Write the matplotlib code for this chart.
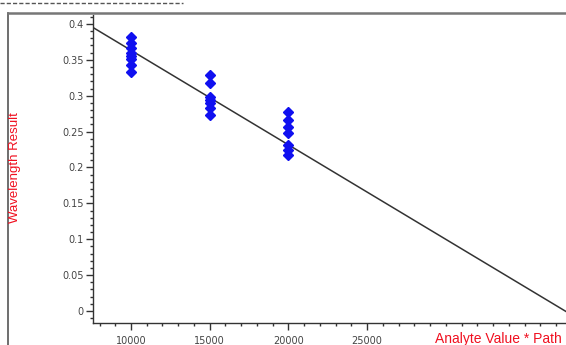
import matplotlib.pyplot as plt
from matplotlib.lines import Line2D
from matplotlib.ticker import MultipleLocator

plt.rcParams['font.family'] = ['DejaVu Sans']

# measured points (analyte value * path length, wavelength result)
x_10k = [10000] * 8
y_10k = [0.382, 0.374, 0.367, 0.360, 0.355, 0.351, 0.343, 0.333]
x_15k = [15000] * 7
y_15k = [0.329, 0.318, 0.298, 0.294, 0.290, 0.283, 0.273]
x_20k = [20000] * 7
y_20k = [0.277, 0.266, 0.256, 0.248, 0.231, 0.224, 0.217]

# fitted calibration line
intercept = 0.495
slope = -1.317e-5
x_min, x_max = 7586, 37636
y_min, y_max = -0.0167, 0.4125

W, H = 566, 345
fig = plt.figure(figsize=(W / 100, H / 100), dpi=100)
ax = fig.add_axes([93 / W, 22 / H, (566 - 93) / W, (323 - 15) / H])

xs = x_10k + x_15k + x_20k
ys = y_10k + y_15k + y_20k
ax.plot(xs, ys, 'D', color='#1010f0', ms=5, mec='#1010f0', zorder=3)

line_x = [x_min, x_max]
line_y = [intercept + slope * v for v in line_x]
ax.plot(line_x, line_y, color='#333333', lw=1.1, zorder=2)

ax.set_xlim(x_min, x_max)
ax.set_ylim(y_min, y_max)
ax.spines['top'].set_visible(False)
ax.spines['right'].set_visible(False)
for s in ('left', 'bottom'):
    ax.spines[s].set_color('#333333')
    ax.spines[s].set_linewidth(1.0)

ax.xaxis.set_minor_locator(MultipleLocator(1000))
ax.yaxis.set_minor_locator(MultipleLocator(0.01))
ax.set_xticks([10000, 15000, 20000, 25000])
ax.set_yticks([0, 0.05, 0.1, 0.15, 0.2, 0.25, 0.3, 0.35, 0.4])
ax.set_yticklabels(['0', '0.05', '0.1', '0.15', '0.2', '0.25', '0.3', '0.35', '0.4'])
ax.tick_params(which='major', length=5, width=1, color='#333333',
               labelsize=7, labelcolor='#444444', pad=1.5)
ax.tick_params(which='minor', length=2.5, width=1, color='#333333')
ax.tick_params(axis='x', which='major', pad=4)

fig.text(15 / W, 1 - 168 / H, 'Wavelength Result', rotation=90, color='#f01020',
         fontsize=9.5, ha='center', va='center', family='Liberation Sans')
fig.text(435 / W, 1 - 339 / H, 'Analyte Value * Path', color='#f01020',
         fontsize=10, ha='left', va='center', family='Liberation Sans')

# outer frame and dashed header line
fig.add_artist(Line2D([8 / W, 8 / W], [0, 1 - 13 / H], color='#555555', lw=1.2))
fig.add_artist(Line2D([8 / W, 1], [1 - 13 / H, 1 - 13 / H], color='#777777', lw=1.8))
fig.add_artist(Line2D([0, 183 / W], [1 - 3 / H, 1 - 3 / H], color='#555555', lw=1,
                      ls=(0, (3, 1.5))))

fig.savefig('out.png', dpi=100)
